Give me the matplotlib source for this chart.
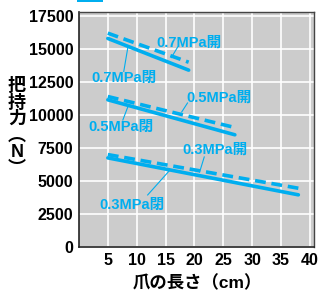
import matplotlib
matplotlib.use("Agg")
import matplotlib.pyplot as plt
from matplotlib.patches import Rectangle

plt.rcParams['font.family'] = ['Liberation Sans', 'Noto Sans CJK JP', 'DejaVu Sans']
plt.rcParams['font.weight'] = 'bold'

BLUE = '#00aeef'

# claw length (cm) -> holding force (N)
x_07 = [5, 19]
closed_07 = [15800, 13400]
open_07 = [16200, 14000]

x_05 = [5, 27]
closed_05 = [11150, 8500]
open_05 = [11400, 9050]

x_03 = [5, 38]
closed_03 = [6750, 3950]
open_03 = [7000, 4450]

yticks = [0, 2500, 5000, 7500, 10000, 12500, 15000, 17500]
xticks = [5, 10, 15, 20, 25, 30, 35, 40]

fig = plt.figure(figsize=(3.21, 2.94), dpi=100)
ax = fig.add_axes([0.246, 0.160, 0.732, 0.799])
ax.set_facecolor('#cccccc')

for xs, c, o in [(x_07, closed_07, open_07), (x_05, closed_05, open_05), (x_03, closed_03, open_03)]:
    ax.plot(xs, c, color=BLUE, lw=2.6, solid_capstyle='round')
    ax.plot(xs, o, color=BLUE, lw=2.6, dashes=(3, 1.6))

# label text: (text, x, y) left/center
labels = [
    ('0.7MPa開', 13.4, 15450),
    ('0.7MPa閉', 2.2, 12800),
    ('0.5MPa開', 18.6, 11290),
    ('0.5MPa閉', 1.55, 9090),
    ('0.3MPa開', 17.9, 7350),
    ('0.3MPa閉', 3.5, 3180),
]
for txt, tx, ty in labels:
    ax.text(tx, ty, txt, color=BLUE, fontsize=10.5, fontweight='bold', ha='left', va='center')

# leader lines
leaders = [
    ((17.1, 15150), (16.0, 14350)),
    ((8.45, 15080), (7.76, 13300)),
    ((17.8, 10230), (18.8, 10910)),
    ((8.45, 10600), (7.6, 9620)),
    ((20.9, 5680), (21.7, 6820)),
    ((11.9, 3940), (15.7, 5800)),
]
for (x0, y0), (x1, y1) in leaders:
    ax.plot([x0, x1], [y0, y1], color=BLUE, lw=0.8)

ax.set_xlim(0, 40.7)
ax.set_ylim(0, 17800)
ax.set_xticks(xticks)
ax.set_yticks(yticks)
ax.grid(True, color='white', lw=1.2)
ax.set_axisbelow(True)
ax.tick_params(length=0, labelsize=11.5, pad=4)
for s in ['left', 'bottom']:
    ax.spines[s].set_color('#222222')
    ax.spines[s].set_linewidth(1.2)
for s in ['top', 'right']:
    ax.spines[s].set_color('#444444')
    ax.spines[s].set_linewidth(1.0)
for lab in ax.get_xticklabels() + ax.get_yticklabels():
    lab.set_fontweight('bold')

fig.text(197 / 321, 1 - 283 / 294, '爪の長さ（cm）', fontsize=12.5, fontweight='bold',
         ha='center', va='center')

# vertical y label as one stacked text
fig.text(17 / 321, 1 - 128 / 294, '把\n持\n力\n︵\nN\n︶', fontsize=13, fontweight='bold',
         ha='center', va='center', linespacing=0.97)

fig.patches.append(Rectangle((77 / 321, 1 - 2 / 294), 26 / 321, 2 / 294,
                             transform=fig.transFigure, color=BLUE, lw=0))

fig.savefig('out.png', dpi=100)
